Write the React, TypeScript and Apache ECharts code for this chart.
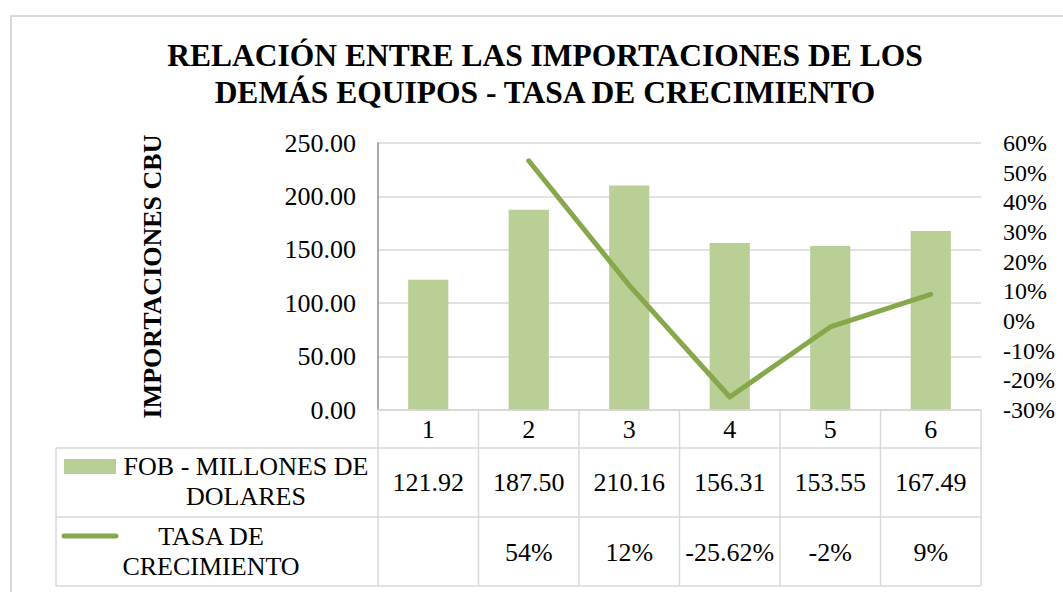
import React, { useEffect, useRef } from "react";
import * as echarts from "echarts";

const categories = ["1", "2", "3", "4", "5", "6"];
const fobValues = [121.92, 187.5, 210.16, 156.31, 153.55, 167.49];
const growthValues: (number | null)[] = [null, 54, 12, -25.62, -2, 9];
const growthLabels = ["", "54%", "12%", "-25.62%", "-2%", "9%"];
const titleLines = [
  "RELACIÓN ENTRE LAS IMPORTACIONES DE LOS",
  "DEMÁS EQUIPOS - TASA DE CRECIMIENTO",
];
const seriesNames = ["FOB - MILLONES DE\nDOLARES", "TASA DE\nCRECIMIENTO"];

const FONT = "Liberation Serif";
const BAR_COLOR = "#b9cf96";
const LINE_COLOR = "#86a84a";
const GRID_COLOR = "#d9d9d9";

function buildOption() {
  const W = 1063;
  const H = 592;
  const gLeft = 378;
  const gRight = 981;
  const gTop = 143;
  const gBottom = 410;
  const tableLeft = 56;
  const rowY = [410, 448, 517, 586];
  const colW = (gRight - gLeft) / categories.length;

  const graphics: any[] = [];
  graphics.push({
    type: "rect",
    shape: { x: 11, y: 16, width: 1200, height: 700 },
    style: { fill: "none", stroke: GRID_COLOR, lineWidth: 2 },
    silent: true,
  });
  graphics.push({
    type: "text",
    x: 545,
    y: 74,
    style: {
      text: titleLines.join("\n"),
      fontFamily: FONT,
      fontSize: 31.5,
      fontWeight: "bold",
      fill: "#000",
      align: "center",
      verticalAlign: "middle",
      lineHeight: 37,
    },
  });
  const line = (x1: number, y1: number, x2: number, y2: number) => ({
    type: "line",
    shape: { x1, y1, x2, y2 },
    style: { stroke: GRID_COLOR, lineWidth: 1.5 },
    silent: true,
    z: 5,
  });
  graphics.push(line(gLeft, rowY[0], gRight, rowY[0]));
  for (let r = 1; r < rowY.length; r++) graphics.push(line(tableLeft, rowY[r], gRight, rowY[r]));
  graphics.push(line(tableLeft, rowY[1], tableLeft, rowY[3]));
  for (let c = 0; c <= categories.length; c++) {
    const x = gLeft + c * colW;
    graphics.push(line(x, rowY[0], x, rowY[3]));
  }
  const cellText = (x: number, y: number, text: string) => ({
    type: "text",
    x,
    y,
    style: {
      text,
      fontFamily: FONT,
      fontSize: 26,
      fill: "#000",
      align: "center",
      verticalAlign: "middle",
      lineHeight: 30,
    },
    z: 6,
  });
  categories.forEach((_, i) => {
    const cx = gLeft + (i + 0.5) * colW;
    graphics.push(cellText(cx, (rowY[1] + rowY[2]) / 2, fobValues[i].toFixed(2)));
    if (growthLabels[i]) graphics.push(cellText(cx, (rowY[2] + rowY[3]) / 2 + 1, growthLabels[i]));
  });
  graphics.push({
    type: "rect",
    shape: { x: 64, y: 459, width: 52, height: 15 },
    style: { fill: BAR_COLOR },
    z: 6,
  });
  graphics.push({
    type: "line",
    shape: { x1: 64, y1: 536, x2: 116, y2: 536 },
    style: { stroke: LINE_COLOR, lineWidth: 5, lineCap: "round" },
    z: 6,
  });
  graphics.push(cellText(246, 481, seriesNames[0]));
  graphics.push(cellText(211, 551, seriesNames[1]));

  return {
    animation: false,
    backgroundColor: "#fff",
    textStyle: { fontFamily: FONT },
    grid: { left: gLeft, right: W - gRight, top: gTop, bottom: H - gBottom, containLabel: false },
    xAxis: {
      type: "category",
      data: categories,
      axisLine: { show: true, lineStyle: { color: GRID_COLOR, width: 1.5 } },
      axisTick: { show: false },
      axisLabel: { fontFamily: FONT, fontSize: 26, color: "#000", margin: 6 },
    },
    yAxis: [
      {
        type: "value",
        min: 0,
        max: 250,
        interval: 50,
        name: "IMPORTACIONES CBU",
        nameLocation: "middle",
        nameGap: 213,
        nameRotate: 90,
        nameTextStyle: { fontFamily: FONT, fontSize: 26, fontWeight: "bold", color: "#000" },
        axisLine: { show: true, lineStyle: { color: "#8c8c8c", width: 1.5 } },
        axisTick: { show: false },
        axisLabel: {
          fontFamily: FONT,
          fontSize: 26,
          color: "#000",
          margin: 22,
          formatter: (v: number) => v.toFixed(2),
        },
        splitLine: { show: true, lineStyle: { color: GRID_COLOR, width: 1.5 } },
      },
      {
        type: "value",
        min: -30,
        max: 60,
        interval: 10,
        position: "right",
        axisLine: { show: false },
        axisTick: { show: false },
        axisLabel: {
          fontFamily: FONT,
          fontSize: 24,
          color: "#000",
          margin: 22,
          formatter: (v: number) => `${v}%`,
        },
        splitLine: { show: false },
      },
    ],
    series: [
      {
        name: "FOB - MILLONES DE DOLARES",
        type: "bar",
        data: fobValues,
        barWidth: "40%",
        itemStyle: { color: BAR_COLOR },
        yAxisIndex: 0,
      },
      {
        name: "TASA DE CRECIMIENTO",
        type: "line",
        data: growthValues,
        yAxisIndex: 1,
        showSymbol: false,
        symbol: "none",
        lineStyle: { color: LINE_COLOR, width: 5, cap: "round", join: "round" },
        itemStyle: { color: LINE_COLOR },
        z: 4,
      },
    ],
    graphic: graphics,
  };
}

export default function App() {
  const ref = useRef<HTMLDivElement>(null);
  useEffect(() => {
    if (!ref.current) return;
    const chart = echarts.init(ref.current, undefined, { renderer: "svg" });
    chart.setOption(buildOption());
    return () => {
      chart.dispose();
    };
  }, []);

  return (
    <div
      ref={ref}
      style={{ position: "fixed", left: 0, top: 0, width: 1063, height: 592, background: "#fff" }}
    />
  );
}
